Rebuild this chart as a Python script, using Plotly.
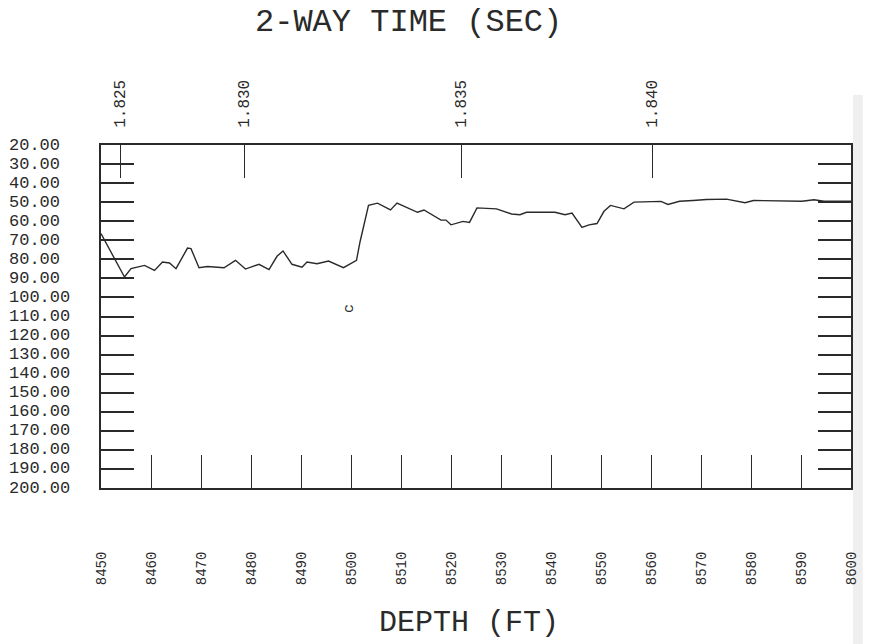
import plotly.graph_objects as go

# ---- data ----
depth_ft = [8450.0, 8454.7, 8456.0, 8458.7, 8460.7, 8462.3, 8463.7, 8465.0, 8467.3, 8468.0,
            8469.6, 8471.3, 8474.6, 8476.9, 8478.9, 8481.6, 8483.6, 8485.2, 8486.4, 8488.2,
            8490.2, 8491.2, 8493.2, 8495.5, 8498.5, 8501.1, 8501.8, 8503.5, 8505.3, 8507.9,
            8509.2, 8511.6, 8513.3, 8514.6, 8518.0, 8519.0, 8520.0, 8522.4, 8523.7, 8525.2,
            8529.1, 8532.1, 8533.8, 8535.1, 8540.8, 8542.8, 8544.2, 8546.2, 8547.6, 8549.2,
            8550.6, 8551.9, 8554.6, 8556.6, 8562.0, 8563.4, 8565.7, 8568.4, 8571.1, 8575.1,
            8577.5, 8578.8, 8580.5, 8590.2, 8592.6, 8594.6, 8600.0]
log_value = [66.5, 89.3, 84.9, 83.2, 85.8, 81.4, 81.9, 84.9, 74.1, 74.4,
             84.4, 83.8, 84.4, 80.5, 85.1, 82.6, 85.4, 78.4, 75.6, 82.6,
             84.1, 81.4, 82.3, 80.9, 84.4, 80.5, 70.9, 51.7, 50.5, 54.1,
             50.5, 53.5, 55.3, 54.1, 59.4, 59.4, 61.9, 60.1, 60.6, 53.0,
             53.5, 56.2, 56.6, 55.3, 55.3, 56.6, 55.7, 63.3, 61.9, 61.2,
             54.8, 51.7, 53.5, 50.0, 49.6, 51.2, 49.5, 49.1, 48.6, 48.4,
             49.5, 50.3, 49.1, 49.5, 48.7, 49.5, 49.5]

depth_ticks = list(range(8450, 8601, 10))
value_ticks = list(range(20, 201, 10))
time_tick_labels = ["1.825", "1.830", "1.835", "1.840"]
time_tick_depths = [8453.8, 8478.6, 8522.0, 8560.2]
marker_depth = [8499.8]
marker_value = [106.0]

INK = "#2a2a2a"
FONT = "Liberation Mono"

fig = go.Figure()
fig.add_trace(go.Scatter(x=depth_ft, y=log_value, mode="lines",
                         line=dict(color=INK, width=1.4), showlegend=False))
# invisible trace so the top (two-way time) axis is drawn
fig.add_trace(go.Scatter(x=[depth_ticks[0]], y=[value_ticks[0]], xaxis="x2", mode="markers",
                         marker=dict(opacity=0), showlegend=False, hoverinfo="skip"))

fig.update_layout(
    width=872, height=644,
    margin=dict(l=101, r=12, t=145, b=156),
    paper_bgcolor="white", plot_bgcolor="white",
    xaxis=dict(range=[8450, 8600], tickvals=depth_ticks, ticktext=[str(d) for d in depth_ticks],
               ticks="inside", ticklen=33, tickwidth=1.3, tickcolor=INK,
               showline=True, linecolor=INK, linewidth=2, mirror=False,
               showgrid=False, zeroline=False, tickangle=-90, ticklabelstandoff=56,
               tickfont=dict(family=FONT, size=14, color=INK)),
    xaxis2=dict(range=[8450, 8600], overlaying="x", side="top",
                tickvals=time_tick_depths, ticktext=time_tick_labels,
                ticks="inside", ticklen=33, tickwidth=1.3, tickcolor=INK,
                showline=True, linecolor=INK, linewidth=2,
                showgrid=False, zeroline=False, tickangle=-90, ticklabelstandoff=12,
                tickfont=dict(family=FONT, size=16, color=INK)),
    yaxis=dict(range=[200, 20], tickvals=value_ticks, showticklabels=False,
               ticks="inside", ticklen=33, tickwidth=1.5, tickcolor=INK,
               showline=True, linecolor=INK, linewidth=2, mirror="ticks",
               showgrid=False, zeroline=False),
)

annotations = []
for v in value_ticks:
    annotations.append(dict(x=0, xref="paper", y=v, yref="y", xanchor="left", yanchor="middle",
                            xshift=-94, text=f"{v:.2f}", showarrow=False,
                            font=dict(family=FONT, size=17, color=INK)))
annotations.append(dict(x=0.41, xref="paper", y=1.0, yref="paper", yshift=123, xanchor="center",
                        yanchor="middle", text="2-WAY TIME (SEC)", showarrow=False,
                        font=dict(family=FONT, size=32, color=INK)))
annotations.append(dict(x=0.49, xref="paper", y=0.0, yref="paper", yshift=-135, xanchor="center",
                        yanchor="middle", text="DEPTH (FT)", showarrow=False,
                        font=dict(family=FONT, size=30, color=INK)))
annotations.append(dict(x=marker_depth[0], y=marker_value[0], xref="x", yref="y", text="c",
                        textangle=-90, showarrow=False,
                        font=dict(family=FONT, size=15, color=INK)))
fig.update_layout(annotations=annotations)

fig.add_shape(type="rect", xref="paper", yref="paper",
              x0=(862 - 101) / 759, x1=(872 - 101) / 759,
              y0=-156 / 343, y1=1 + 50 / 343,
              fillcolor="#e4e4e4", opacity=0.6, line=dict(width=0), layer="below")

fig.write_html("out.html")
